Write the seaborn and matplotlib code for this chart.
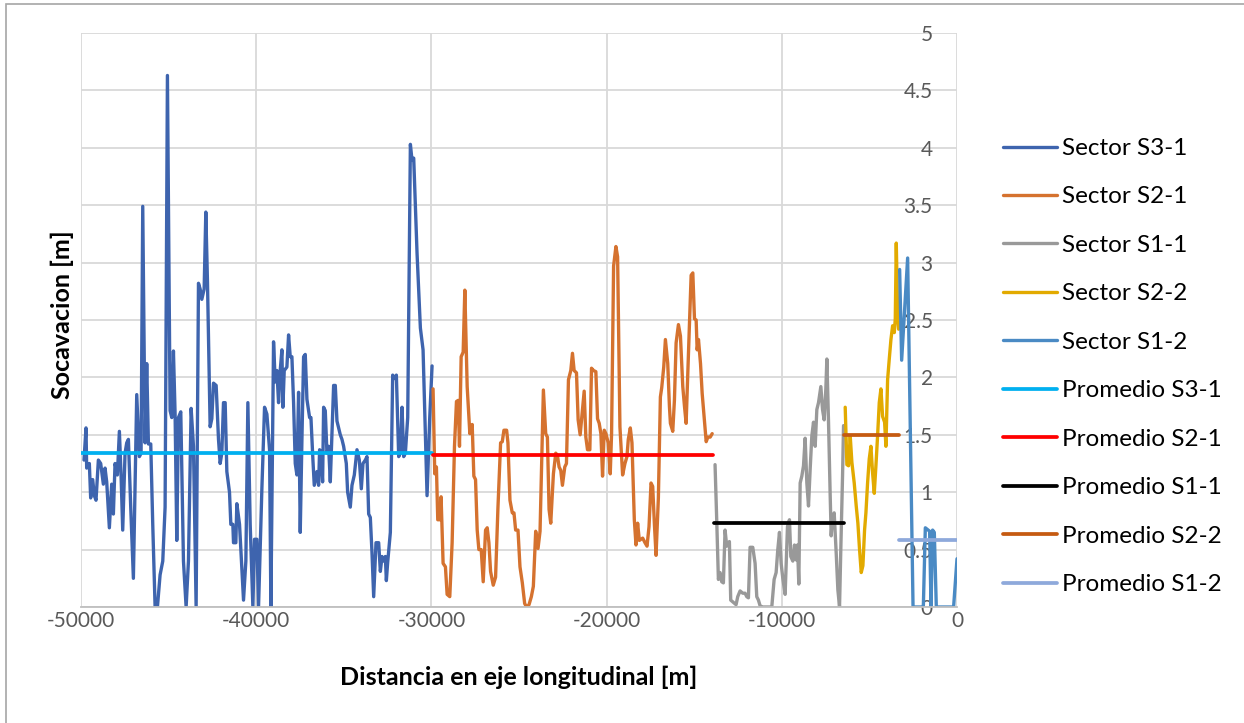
import numpy as np
import pandas as pd
import matplotlib
matplotlib.use("Agg")
import matplotlib.pyplot as plt
from matplotlib.ticker import FuncFormatter, MultipleLocator
from matplotlib.patches import Rectangle
import seaborn as sns

# ---------------- data ----------------
s31_x = [-49829, -49714, -49676, -49524, -49448, -49333, -49238, -49143, -49009, -48876, -48724, -48628,
         -48533, -48381, -48247, -48152, -48057, -47924, -47809, -47714, -47619, -47486, -47390, -47295,
         -47162, -47010, -46819, -46667, -46571, -46476, -46343, -46248, -46152, -46019, -45905, -45771,
         -45638, -45486, -45333, -45200, -45067, -44914, -44819, -44724, -44629, -44533, -44438, -44305,
         -44152, -44000, -43867, -43714, -43581, -43429, -43295, -43200, -43105, -42971, -42876, -42781,
         -42629, -42533, -42438, -42286, -42152, -42057, -41962, -41867, -41771, -41676, -41524, -41448,
         -41333, -41295, -41162, -41105, -40952, -40819, -40724, -40590, -40476, -40343, -40190, -40095,
         -39962, -39867, -39676, -39524, -39390, -39238, -39162, -39010, -38914, -38819, -38724, -38629,
         -38533, -38476, -38400, -38248, -38152, -38057, -37962, -37867, -37771, -37676, -37581, -37486,
         -37390, -37295, -37200, -37105, -36952, -36876, -36762, -36686, -36533, -36438, -36381, -36305,
         -36210, -36152, -36057, -35962, -35867, -35771, -35676, -35581, -35486, -35390, -35200, -35105,
         -35010, -34857, -34781, -34629, -34533, -34400, -34248, -34114, -34000, -33905, -33771, -33676,
         -33581, -33486, -33390, -33295, -33162, -33010, -32914, -32819, -32724, -32629, -32571, -32495,
         -32343, -32210, -32114, -32000, -31867, -31771, -31676, -31581, -31486, -31352, -31200, -31105,
         -31010, -30819, -30629, -30476, -30343, -30248, -30095, -29962]
s31_y = [1.28, 1.56, 1.21, 1.25, 0.95, 1.11, 0.97, 0.93, 1.28, 1.25, 1.07, 1.21,
         1.09, 0.69, 1.07, 0.81, 1.25, 1.15, 1.53, 1.15, 0.67, 1.34, 1.43, 1.46,
         0.87, 0.25, 1.85, 1.31, 1.34, 3.49, 1.43, 2.12, 1.42, 1.42, 0.72, 0.0,
         0.0, 0.28, 0.40, 0.87, 4.63, 1.71, 1.65, 2.23, 1.68, 0.58, 1.65, 1.70,
         0.40, 0.0, 0.40, 1.73, 1.40, 0.0, 2.82, 2.77, 2.68, 2.77, 3.44, 2.83,
         1.57, 1.64, 1.95, 1.93, 1.46, 1.25, 1.34, 1.78, 1.78, 1.18, 1.00, 0.72,
         0.72, 0.56, 0.56, 0.90, 0.72, 0.34, 0.06, 0.40, 1.78, 0.72, 0.0, 0.59,
         0.59, 0.0, 1.03, 1.74, 1.68, 1.37, 0.0, 2.31, 1.96, 2.06, 1.78, 2.06,
         2.24, 1.74, 2.06, 2.09, 2.37, 2.18, 2.18, 1.78, 1.25, 1.15, 1.87, 0.65,
         1.46, 2.18, 2.20, 1.81, 1.65, 1.65, 1.28, 1.06, 1.18, 1.06, 1.37, 1.34,
         1.09, 1.74, 1.71, 1.34, 1.40, 1.09, 1.50, 1.93, 1.93, 1.62, 1.50, 1.46,
         1.40, 1.25, 1.00, 0.87, 1.06, 1.15, 1.37, 1.28, 1.03, 1.25, 1.28, 1.31,
         0.81, 0.78, 0.47, 0.09, 0.56, 0.56, 0.31, 0.44, 0.40, 0.44, 0.23, 0.39,
         0.65, 2.02, 1.99, 2.02, 1.31, 1.34, 1.74, 1.31, 1.34, 1.65, 4.03, 3.89,
         3.91, 3.08, 2.43, 2.24, 1.50, 0.97, 1.65, 2.10]

s21_x = [-29905, -29809, -29714, -29637, -29523, -29447, -29332, -29199, -29103, -28951, -28817, -28683,
         -28569, -28474, -28397, -28302, -28187, -28092, -27958, -27806, -27672, -27577, -27481, -27386,
         -27291, -27157, -27043, -26909, -26814, -26718, -26623, -26470, -26337, -26203, -26050, -25955,
         -25860, -25707, -25631, -25516, -25383, -25287, -25192, -25058, -24944, -24810, -24677, -24562,
         -24429, -24295, -24181, -24047, -23914, -23799, -23723, -23608, -23475, -23379, -23284, -23188,
         -23036, -22902, -22807, -22711, -22616, -22521, -22387, -22292, -22177, -22044, -21948, -21853,
         -21719, -21624, -21509, -21376, -21280, -21185, -21090, -20956, -20861, -20746, -20613, -20517,
         -20422, -20326, -20231, -20135, -20040, -19907, -19792, -19716, -19601, -19468, -19372, -19239,
         -19086, -18953, -18838, -18762, -18647, -18552, -18418, -18323, -18228, -18132, -17941, -17808,
         -17693, -17579, -17464, -17369, -17274, -17178, -17045, -16930, -16854, -16739, -16644, -16510,
         -16415, -16358, -16224, -16129, -16033, -15900, -15785, -15652, -15556, -15461, -15366, -15270,
         -15175, -15079, -14984, -14889, -14832, -14755, -14640, -14545, -14450, -14316, -14221, -14087,
         -13973]
s21_y = [1.90, 1.16, 1.22, 0.76, 0.76, 0.96, 0.38, 0.35, 0.11, 0.09, 0.56, 1.40,
         1.79, 1.80, 1.40, 2.18, 2.22, 2.76, 1.92, 1.51, 1.59, 1.14, 1.11, 0.67,
         0.50, 0.50, 0.22, 0.67, 0.69, 0.56, 0.31, 0.19, 0.26, 0.86, 1.43, 1.44,
         1.54, 1.54, 1.43, 0.93, 0.82, 0.82, 0.67, 0.67, 0.35, 0.21, 0.03, 0.00,
         0.02, 0.09, 0.18, 0.66, 0.51, 0.66, 1.16, 1.89, 1.51, 1.48, 0.85, 0.73,
         1.16, 1.34, 1.32, 1.22, 1.19, 1.06, 1.22, 1.25, 1.98, 2.06, 2.21, 2.06,
         2.04, 1.63, 1.50, 1.72, 1.88, 1.48, 1.37, 1.37, 2.08, 2.06, 2.05, 1.64,
         1.60, 1.51, 1.14, 1.54, 1.51, 1.43, 1.16, 1.51, 2.97, 3.14, 3.05, 1.57,
         1.15, 1.25, 1.31, 1.46, 1.56, 1.43, 0.76, 0.54, 0.73, 0.58, 0.60, 0.56,
         0.53, 0.70, 1.08, 1.05, 0.73, 0.45, 0.95, 1.83, 1.91, 2.09, 2.33, 2.12,
         1.75, 1.60, 1.53, 1.80, 2.30, 2.46, 2.36, 1.92, 1.75, 1.60, 2.04, 2.47,
         2.89, 2.91, 2.51, 2.50, 2.24, 2.33, 2.12, 1.86, 1.69, 1.44, 1.48, 1.48,
         1.51]

s11_x = [-13810, -13715, -13619, -13524, -13429, -13334, -13238, -13143, -12991, -12915, -12762, -12610,
         -12515, -12381, -12229, -12096, -12000, -11905, -11810, -11657, -11524, -11429, -11334, -11238,
         -11086, -10857, -10572, -10438, -10324, -10229, -10133, -10038, -9943, -9810, -9676, -9562,
         -9486, -9371, -9276, -9181, -9105, -9029, -8952, -8857, -8762, -8667, -8571, -8476,
         -8381, -8286, -8190, -8095, -8000, -7905, -7771, -7676, -7581, -7486, -7428, -7333,
         -7238, -7181, -7105, -7010, -6895, -6800, -6705, -6628, -6533, -6476]
s11_y = [1.24, 0.76, 0.24, 0.30, 0.22, 0.21, 0.67, 0.53, 0.57, 0.06, 0.04, 0.02,
         0.09, 0.14, 0.12, 0.12, 0.09, 0.08, 0.52, 0.52, 0.38, 0.09, 0.06, 0.01,
         0.00, 0.00, 0.00, 0.24, 0.30, 0.50, 0.65, 0.38, 0.25, 0.11, 0.70, 0.76,
         0.44, 0.40, 0.54, 0.41, 0.54, 0.20, 1.08, 1.14, 1.23, 1.47, 1.08, 0.88,
         1.20, 1.49, 1.61, 1.40, 1.72, 1.78, 1.92, 1.72, 1.63, 1.90, 2.16, 1.61,
         0.97, 0.62, 0.79, 0.82, 0.47, 0.15, 0.00, 0.53, 1.14, 1.58]

s22_x = [-6381, -6285, -6190, -6095, -6000, -5866, -5752, -5657, -5562, -5466, -5371, -5276,
         -5199, -5104, -5009, -4914, -4819, -4723, -4628, -4533, -4437, -4342, -4247, -4133,
         -4057, -3961, -3866, -3771, -3675, -3580, -3523, -3466, -3390, -3333]
s22_y = [1.74, 1.24, 1.23, 1.49, 1.26, 1.08, 0.88, 0.73, 0.50, 0.30, 0.36, 0.67,
         0.82, 1.08, 1.29, 1.40, 1.17, 0.99, 1.23, 1.49, 1.78, 1.90, 1.66, 1.61,
         1.40, 1.98, 2.16, 2.33, 2.45, 2.39, 2.51, 3.17, 2.56, 2.42]

s12_x = [-3274, -3159, -2817, -2509, -1922, -1808, -1563, -1483, -1392, -1295, -1181, -194, 0]
s12_y = [2.94, 2.15, 3.04, 0.00, 0.00, 0.69, 0.66, 0.00, 0.67, 0.65, 0.00, 0.00, 0.42]

prom_names = ["Promedio S3-1", "Promedio S2-1", "Promedio S1-1", "Promedio S2-2", "Promedio S1-2"]
prom_x0 = [-50000, -29905, -13867, -6438, -3295]
prom_x1 = [-29962, -13935, -6438, -3295, 0]
prom_val = [1.34, 1.32, 0.73, 1.50, 0.58]

sector_names = ["Sector S3-1", "Sector S2-1", "Sector S1-1", "Sector S2-2", "Sector S1-2"]
x_ticks = [-50000, -40000, -30000, -20000, -10000, 0]
x_label = "Distancia en eje longitudinal [m]"
y_label = "Socavacion [m]"

# ---------------- style ----------------
sector_colors = ["#3E64AE", "#D5722F", "#999999", "#E2AA00", "#4A8AC4"]
prom_colors = ["#00B0F0", "#FF0000", "#000000", "#C55A11", "#8EA9DB"]

sns.set_theme(style="whitegrid")
plt.rcParams["font.family"] = ["Lato", "DejaVu Sans"]
plt.rcParams["axes.unicode_minus"] = False

W, H = 1244, 723
fig = plt.figure(figsize=(W / 100, H / 100), dpi=100)
ax = fig.add_axes([81 / W, 1 - 607 / H, (957 - 81) / W, (607 - 33) / H])

sectors = [(s31_x, s31_y), (s21_x, s21_y), (s11_x, s11_y), (s22_x, s22_y), (s12_x, s12_y)]
for (xs, ys), name, col in zip(sectors, sector_names, sector_colors):
    df = pd.DataFrame({"x": xs, "y": ys})
    sns.lineplot(data=df, x="x", y="y", ax=ax, color=col, lw=2.4, label=name,
                 estimator=None, sort=False)

for name, x0, x1, v, col in zip(prom_names, prom_x0, prom_x1, prom_val, prom_colors):
    df = pd.DataFrame({"x": [x0, x1], "y": [v, v]})
    sns.lineplot(data=df, x="x", y="y", ax=ax, color=col, lw=2.7, label=name,
                 estimator=None, sort=False)

ax.set_xlim(-50000, 0)
ax.set_ylim(0, 5)
ax.set_xticks(x_ticks)
ax.xaxis.set_major_formatter(FuncFormatter(lambda v, p: f"{int(v)}"))
ax.yaxis.set_major_locator(MultipleLocator(0.5))
ax.yaxis.set_major_formatter(FuncFormatter(lambda v, p: f"{v:g}"))

ax.grid(True, color="#D9D9D9", lw=1.3)
ax.set_axisbelow(True)
for s in ["top", "left", "right"]:
    ax.spines[s].set_visible(False)
ax.spines["bottom"].set_color("#BFBFBF")
ax.spines["bottom"].set_linewidth(1.3)

tick_col = "#595959"
ax.tick_params(axis="x", length=0, pad=3, labelsize=15, labelcolor=tick_col)
ax.tick_params(axis="y", left=False, right=False, labelleft=False, labelright=True,
               length=0, pad=-17.5, labelsize=15, labelcolor=tick_col)
for lab in ax.get_yticklabels():
    lab.set_horizontalalignment("right")

ax.set_xlabel("")
ax.set_ylabel("")
fig.text(519 / W, 1 - 677 / H, x_label, ha="center", va="center",
         fontsize=18, fontweight="bold", color="black")
fig.text(62 / W, 1 - 315 / H, y_label, rotation=90, ha="center", va="center",
         fontsize=18, fontweight="bold", color="black")

leg = ax.legend(loc="upper left", bbox_to_anchor=(1003 / W, 1 - 138 / H),
                bbox_transform=fig.transFigure, frameon=False, fontsize=17.5,
                handlelength=2.22, handletextpad=0.2, labelspacing=1.13,
                borderpad=0, borderaxespad=0)
for t in leg.get_texts():
    t.set_color("black")

# outer chart frame (only left and top edges visible in the crop)
fig.patches.append(Rectangle((6 / W, -0.1), 2.0, 1.1 - 4 / H, transform=fig.transFigure,
                             fill=False, edgecolor="#A6A6A6", lw=1.2, zorder=0))

fig.savefig("out.png", dpi=100)
